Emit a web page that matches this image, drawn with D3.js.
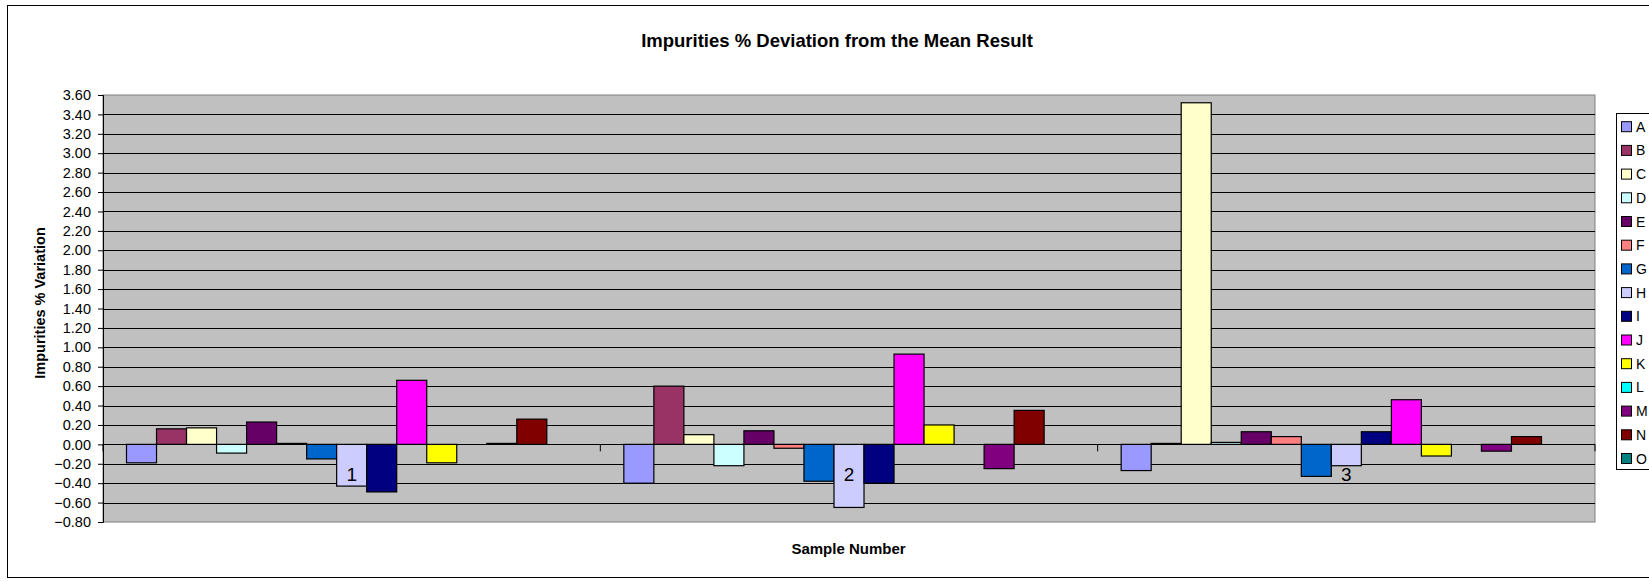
<!DOCTYPE html>
<html><head><meta charset="utf-8">
<script src="https://cdn.jsdelivr.net/npm/d3@7"></script>
<style>
html,body{margin:0;padding:0;background:#fff;}
svg{display:block;font-family:"Liberation Sans",Arial,sans-serif;}
</style></head>
<body>
<script>
const categories = ["1", "2", "3"];
const seriesNames = ["A","B","C","D","E","F","G","H","I","J","K","L","M","N","O"];
const seriesColors = ["#9999FF","#993366","#FFFFCC","#CCFFFF","#660066","#FF8080","#0066CC","#CCCCFF","#000080","#FF00FF","#FFFF00","#00FFFF","#800080","#800000","#008080"];
// values per series: [sample1, sample2, sample3]
const valA = [-0.19, -0.40, -0.27];
const valB = [0.16, 0.60, 0.01];
const valC = [0.17, 0.10, 3.52];
const valD = [-0.09, -0.22, 0.02];
const valE = [0.23, 0.14, 0.13];
const valF = [0.01, -0.04, 0.08];
const valG = [-0.15, -0.38, -0.33];
const valH = [-0.43, -0.65, -0.22];
const valI = [-0.49, -0.40, 0.13];
const valJ = [0.66, 0.93, 0.46];
const valK = [-0.19, 0.20, -0.12];
const valL = [0, 0, 0];
const valM = [0.01, -0.25, -0.07];
const valN = [0.26, 0.35, 0.08];
const valO = [0, 0, 0];
const seriesValues = [valA,valB,valC,valD,valE,valF,valG,valH,valI,valJ,valK,valL,valM,valN,valO];
const yTicks = [-0.8,-0.6,-0.4,-0.2,0,0.2,0.4,0.6,0.8,1.0,1.2,1.4,1.6,1.8,2.0,2.2,2.4,2.6,2.8,3.0,3.2,3.4,3.6];
const titleText = "Impurities % Deviation from the Mean Result";
const xTitle = "Sample Number";
const yTitle = "Impurities % Variation";

const W = 1649, H = 582;
const plot = {left: 103, right: 1595, top: 95, bottom: 522};

const svg = d3.select("body").append("svg").attr("width", W).attr("height", H);

// outer border
svg.append("rect").attr("x", 7.5).attr("y", 5.5).attr("width", 1700).attr("height", 572)
  .attr("fill", "#fff").attr("stroke", "#000").attr("stroke-width", 1);

const x0 = d3.scaleBand().domain(categories).range([plot.left, plot.right]).paddingInner(0).paddingOuter(0);
const groupPad = 23.5;
const x1 = d3.scaleBand().domain(seriesNames).range([0, x0.bandwidth() - 2 * groupPad]).padding(0);
const y = d3.scaleLinear().domain([-0.8, 3.6]).range([plot.bottom, plot.top]);

// plot background
svg.append("rect").attr("x", plot.left).attr("y", plot.top)
  .attr("width", plot.right - plot.left).attr("height", plot.bottom - plot.top)
  .attr("fill", "#C0C0C0").attr("stroke", "#808080").attr("stroke-width", 1);

// gridlines
svg.append("g").selectAll("line").data(yTicks.filter(d => d !== 0 && d !== -0.8 && d !== 3.6)).join("line")
  .attr("x1", plot.left).attr("x2", plot.right)
  .attr("y1", d => Math.round(y(d)) + 0.5).attr("y2", d => Math.round(y(d)) + 0.5)
  .attr("stroke", "#000").attr("stroke-width", 1);

// bars
const groups = svg.append("g").selectAll("g").data(categories).join("g")
  .attr("transform", c => `translate(${x0(c) + groupPad},0)`);
groups.selectAll("rect").data((c, ci) => seriesNames.map((s, si) => ({s, si, v: seriesValues[si][ci]})))
  .join("rect")
  .filter(d => d.v !== 0)
  .attr("x", d => x1(d.s))
  .attr("width", x1.bandwidth())
  .attr("y", d => y(Math.max(0, d.v)))
  .attr("height", d => Math.max(0.5, Math.abs(y(d.v) - y(0))))
  .attr("fill", d => seriesColors[d.si])
  .attr("stroke", "#000").attr("stroke-width", 1.2);

// zero axis line
svg.append("line").attr("x1", plot.left).attr("x2", plot.right)
  .attr("y1", Math.round(y(0)) + 0.5).attr("y2", Math.round(y(0)) + 0.5)
  .attr("stroke", "#000").attr("stroke-width", 1.2);

// category boundary ticks
const boundaries = categories.map(c => x0(c)).concat([plot.right]);
svg.append("g").selectAll("line").data(boundaries).join("line")
  .attr("x1", d => d).attr("x2", d => d)
  .attr("y1", y(0)).attr("y2", y(0) + 7)
  .attr("stroke", "#000").attr("stroke-width", 1);

// category labels via axis
const xAxis = d3.axisBottom(x0).tickSize(0).tickPadding(0);
const gx = svg.append("g").attr("transform", `translate(0,${y(0) + 23})`).call(xAxis);
gx.select(".domain").remove();
gx.selectAll("text").attr("font-size", 19).attr("fill", "#000")
  .attr("font-family", "Liberation Sans, Arial, sans-serif").attr("dy", "0.71em");

// y axis
const yAxis = d3.axisLeft(y).tickValues(yTicks).tickFormat(d3.format(".2f")).tickSize(5).tickPadding(7);
const gy = svg.append("g").attr("transform", `translate(${plot.left},0)`).call(yAxis);
gy.select(".domain").attr("stroke", "#000");
gy.selectAll(".tick line").attr("stroke", "#000");
gy.selectAll("text").attr("font-size", 14.5).attr("fill", "#000")
  .attr("font-family", "Liberation Sans, Arial, sans-serif");

// titles
svg.append("text").attr("x", 837).attr("y", 47).attr("text-anchor", "middle")
  .attr("font-size", 18.5).attr("font-weight", "bold").text(titleText);
svg.append("text").attr("x", 848.5).attr("y", 554).attr("text-anchor", "middle")
  .attr("font-size", 15).attr("font-weight", "bold").text(xTitle);
svg.append("text").attr("transform", `translate(45,303) rotate(-90)`).attr("text-anchor", "middle")
  .attr("font-size", 14.5).attr("font-weight", "bold").text(yTitle);

// legend
const lg = svg.append("g");
lg.append("rect").attr("x", 1616.5).attr("y", 113.5).attr("width", 60).attr("height", 356)
  .attr("fill", "#fff").attr("stroke", "#000").attr("stroke-width", 1);
const items = lg.selectAll("g.item").data(seriesNames).join("g").attr("class", "item")
  .attr("transform", (d, i) => `translate(1621,${126.7 + i * 23.7})`);
items.append("rect").attr("x", 0.5).attr("y", -5).attr("width", 10).attr("height", 10)
  .attr("fill", (d, i) => seriesColors[i]).attr("stroke", "#000").attr("stroke-width", 1);
items.append("text").attr("x", 15).attr("y", 0).attr("dy", "0.36em")
  .attr("font-size", 14).attr("fill", "#000").text(d => d);
</script>
</body></html>
